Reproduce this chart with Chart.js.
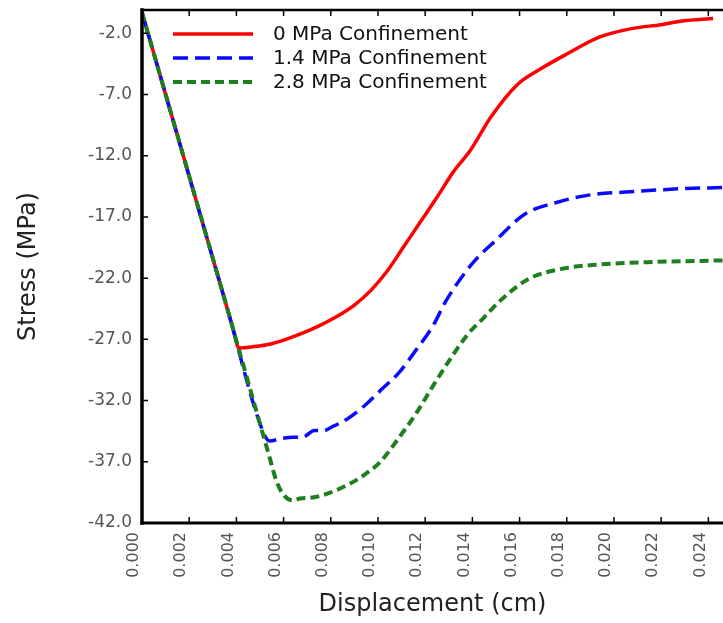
<!DOCTYPE html>
<html>
<head>
<meta charset="utf-8">
<script src="https://cdn.jsdelivr.net/npm/chart.js@4.4.1/dist/chart.umd.min.js"></script>
<style>
    html, body { margin: 0; padding: 0; background: #fff; }
    #wrap { width: 723px; height: 623px; }
</style>
</head>
<body>
<div id="wrap"><canvas id="stressChart"></canvas></div>
<script>
const seriesLabels = ['0 MPa Confinement', '1.4 MPa Confinement', '2.8 MPa Confinement'];

// 0 MPa confinement
const disp0 = [0, 0.0036, 0.0039, 0.0041, 0.0047, 0.0054, 0.0061, 0.0068, 0.0075, 0.0082, 0.0090,
    0.0097, 0.0104, 0.0111, 0.0118, 0.0125, 0.0132, 0.0139, 0.0148, 0.0159, 0.0169, 0.0180,
    0.0194, 0.0208, 0.0220, 0.0229, 0.0242];
const stress0 = [-0.3, -24.4, -26.4, -27.7, -27.6, -27.4, -27.0, -26.5, -25.9, -25.2, -24.2,
    -23.0, -21.4, -19.4, -17.4, -15.4, -13.3, -11.6, -8.8, -6.2, -4.9, -3.7,
    -2.3, -1.6, -1.3, -1.0, -0.8];

// 1.4 MPa confinement
const disp1 = [0, 0.0036, 0.0051, 0.0054, 0.0059, 0.0064, 0.0068, 0.0073, 0.0077, 0.0080, 0.0087,
    0.0095, 0.0102, 0.0109, 0.0116, 0.0123, 0.0129, 0.0140, 0.0150, 0.0162, 0.0176, 0.0190,
    0.0207, 0.0228, 0.0246];
const stress1 = [-0.3, -24.4, -34.4, -35.3, -35.1, -35.0, -35.0, -34.45, -34.45, -34.2, -33.5,
    -32.3, -31.0, -29.7, -27.9, -26.0, -23.8, -20.8, -18.9, -16.8, -15.8, -15.2,
    -14.95, -14.7, -14.6];

// 2.8 MPa confinement
const disp2 = [0, 0.0036, 0.0054, 0.0057, 0.0060, 0.0064, 0.0067, 0.0073, 0.0080, 0.0087, 0.0094,
    0.0101, 0.0109, 0.0116, 0.0123, 0.0131, 0.0138, 0.0145, 0.0152, 0.0164, 0.0179, 0.0193,
    0.0214, 0.0246];
const stress2 = [-0.3, -24.4, -36.6, -38.6, -39.7, -40.15, -40.0, -39.9, -39.5, -38.9, -38.1,
    -37.0, -35.0, -33.1, -30.9, -28.5, -26.6, -25.2, -23.8, -22.05, -21.2, -20.9,
    -20.7, -20.55];

const xTicks = [0, 0.002, 0.004, 0.006, 0.008, 0.010, 0.012, 0.014, 0.016, 0.018, 0.020, 0.022, 0.024];
const yTicks = [-2, -7, -12, -17, -22, -27, -32, -37, -42];

const FONT = 'DejaVu Sans';

const toPoints = (xs, ys) => xs.map((x, i) => ({ x: x, y: ys[i] }));

// axis frame with inward tick marks (top, left, bottom)
const frame = {
    id: 'frame',
    afterDatasetsDraw(chart) {
        const { ctx, chartArea: a, scales: { x, y } } = chart;
        ctx.save();
        ctx.strokeStyle = '#000';
        ctx.lineWidth = 1.5;
        ctx.beginPath();
        x.ticks.forEach(t => {
            const px = x.getPixelForValue(t.value);
            ctx.moveTo(px, a.bottom);
            ctx.lineTo(px, a.bottom - 6);
            ctx.moveTo(px, a.top);
            ctx.lineTo(px, a.top + 6);
        });
        y.ticks.forEach(t => {
            const py = y.getPixelForValue(t.value);
            ctx.moveTo(a.left, py);
            ctx.lineTo(a.left + 6, py);
        });
        ctx.stroke();

        ctx.lineCap = 'square';
        ctx.lineWidth = 2.5;
        ctx.beginPath();
        ctx.moveTo(a.left, a.top);
        ctx.lineTo(a.right + 2, a.top);
        ctx.stroke();
        ctx.lineWidth = 3.5;
        ctx.beginPath();
        ctx.moveTo(a.left, a.top);
        ctx.lineTo(a.left, a.bottom);
        ctx.stroke();
        ctx.lineWidth = 3;
        ctx.beginPath();
        ctx.moveTo(a.left, a.bottom);
        ctx.lineTo(a.right + 2, a.bottom);
        ctx.stroke();
        ctx.restore();
    }
};

// legend drawn inside the plot, line samples use each dataset's dash
const lineLegend = {
    id: 'lineLegend',
    afterDraw(chart) {
        const { ctx, chartArea: a } = chart;
        chart.data.datasets.forEach((ds, i) => {
            const ly = a.top + 24 + i * 24;
            ctx.save();
            ctx.strokeStyle = ds.borderColor;
            ctx.lineWidth = ds.borderWidth;
            ctx.setLineDash(ds.borderDash || []);
            ctx.beginPath();
            ctx.moveTo(a.left + 31, ly);
            ctx.lineTo(a.left + 111, ly);
            ctx.stroke();
            ctx.fillStyle = '#111';
            ctx.font = `20px "${FONT}"`;
            ctx.textBaseline = 'middle';
            ctx.fillText(ds.label, a.left + 131, ly + 1);
            ctx.restore();
        });
    }
};

const ctx = document.getElementById('stressChart');

new Chart(ctx, {
    type: 'line',
    data: {
        datasets: [
            {
                label: seriesLabels[0],
                data: toPoints(disp0, stress0),
                borderColor: '#ff0000',
                borderWidth: 3.5,
                order: 3
            },
            {
                label: seriesLabels[1],
                data: toPoints(disp1, stress1),
                borderColor: '#0a0aff',
                borderWidth: 3.5,
                borderDash: [15, 7],
                order: 2
            },
            {
                label: seriesLabels[2],
                data: toPoints(disp2, stress2),
                borderColor: '#1f7f1f',
                borderWidth: 4,
                borderDash: [9, 5],
                order: 1
            }
        ]
    },
    options: {
        responsive: true,
        maintainAspectRatio: false,
        animation: false,
        layout: { padding: { top: 10, right: 0, bottom: 0, left: 0 } },
        elements: {
            point: { radius: 0 },
            line: { fill: false, cubicInterpolationMode: 'monotone' }
        },
        plugins: {
            legend: { display: false },
            tooltip: { enabled: false }
        },
        scales: {
            x: {
                type: 'linear',
                min: 0,
                max: 0.02462,
                grid: { display: false, drawTicks: false },
                border: { display: false },
                afterBuildTicks: s => { s.ticks = xTicks.map(v => ({ value: v })); },
                afterFit: s => { s.height = 100; s.paddingLeft = 0; s.paddingRight = 0; },
                ticks: {
                    minRotation: 90,
                    maxRotation: 90,
                    padding: 9,
                    labelOffset: -8,
                    color: '#555',
                    font: { family: FONT, size: 16 },
                    callback: v => v.toFixed(3)
                },
                title: {
                    display: true,
                    text: 'Displacement (cm)',
                    color: '#222',
                    font: { family: FONT, size: 24 },
                    padding: { top: 0, bottom: 4 }
                }
            },
            y: {
                min: -42,
                max: -0.1,
                grid: { display: false, drawTicks: false },
                border: { display: false },
                afterBuildTicks: s => { s.ticks = yTicks.map(v => ({ value: v })); },
                afterFit: s => { s.width = 142; s.paddingTop = 0; s.paddingBottom = 0; },
                ticks: {
                    padding: 10,
                    color: '#555',
                    font: { family: FONT, size: 17 },
                    callback: v => v.toFixed(1)
                },
                title: {
                    display: true,
                    text: 'Stress (MPa)',
                    color: '#222',
                    font: { family: FONT, size: 24 },
                    padding: { top: 14, bottom: 0 }
                }
            }
        }
    },
    plugins: [frame, lineLegend]
});
</script>
</body>
</html>
